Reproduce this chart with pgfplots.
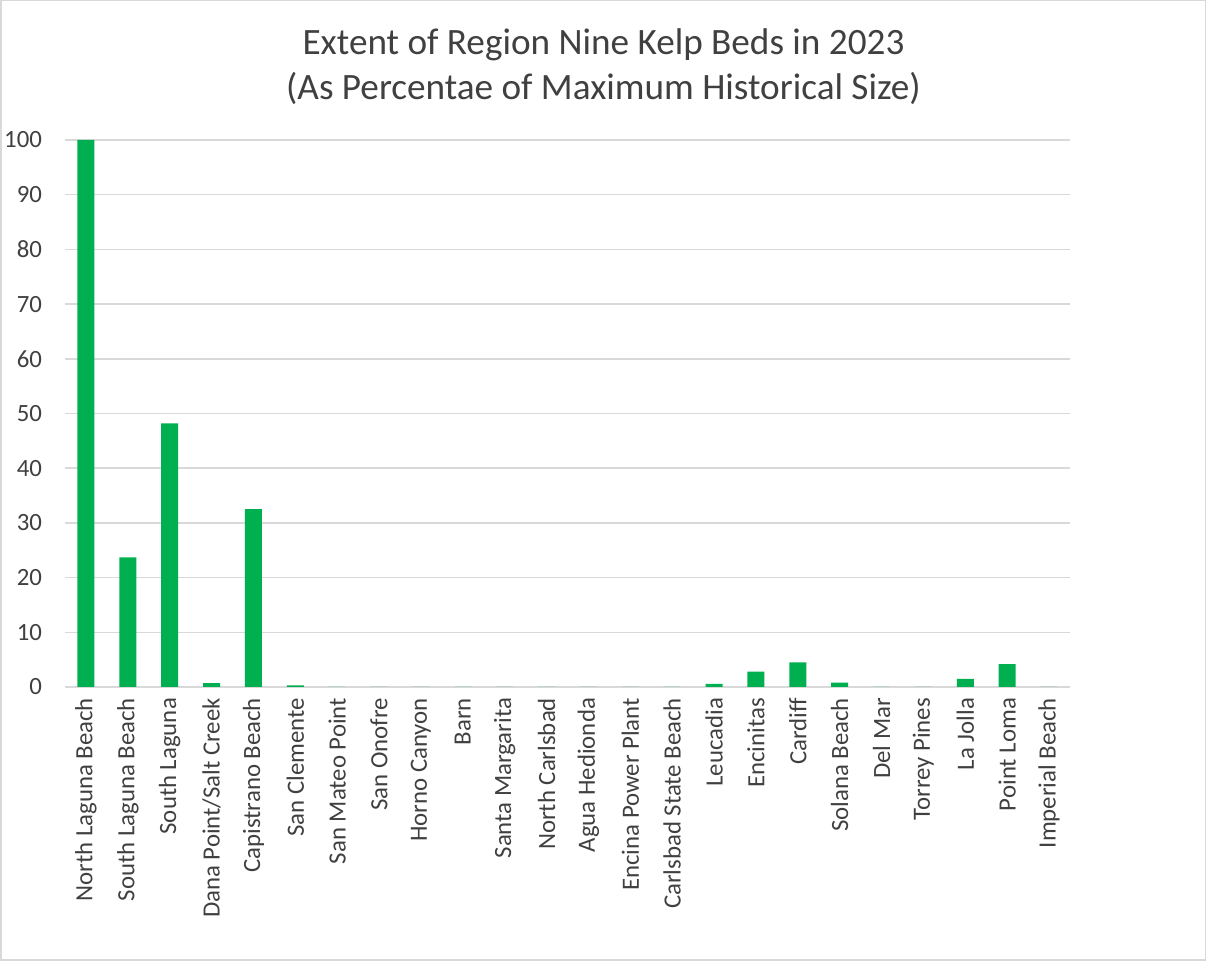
\documentclass[border=0pt]{standalone}
\usepackage{fontspec}
\setmainfont{Carlito}
\usepackage{pgfplots}
\pgfplotsset{compat=1.18}
\definecolor{kelp}{HTML}{00B050}
\definecolor{gridc}{HTML}{D9D9D9}
\definecolor{txt}{HTML}{404040}
\begin{document}
\begin{tikzpicture}[x=0.5pt,y=0.5pt]
\useasboundingbox (0,0) rectangle (1206,961);
\draw[gridc, line width=1pt] (0.5,0.5) rectangle (1205.5,960.5);
\node[font=\fontsize{18.6}{22.5}\selectfont, text=txt, align=center] at (603.5,894) {Extent of Region Nine Kelp Beds in 2023\\(As Percentae of Maximum Historical Size)};
\begin{axis}[
  at={(65pt*0.5,274pt*0.5)}, anchor=south west,
  scale only axis,
  width=502.5pt, height=273.5pt,
  xmin=-0.5, xmax=23.5,
  ymin=0, ymax=100,
  ytick={0,10,...,100},
  xtick={0,...,23},
  xticklabels={North Laguna Beach, South Laguna Beach, South Laguna, Dana Point/Salt Creek, Capistrano Beach, San Clemente, San Mateo Point, San Onofre, Horno Canyon, Barn, Santa Margarita, North Carlsbad, Agua Hedionda, Encina Power Plant, Carlsbad State Beach, Leucadia, Encinitas, Cardiff, Solana Beach, Del Mar, Torrey Pines, La Jolla, Point Loma, Imperial Beach},
  x tick label style={rotate=90, anchor=east, font=\fontsize{12.4}{14}\selectfont, text=txt, xshift=-2pt},
  y tick label style={font=\fontsize{12.4}{14}\selectfont, text=txt, xshift=-8pt},
  /pgf/number format/assume math mode=true,
  major tick length=0pt,
  ymajorgrids,
  grid style={gridc, line width=0.75pt},
  axis x line*=bottom,
  axis y line*=left,
  y axis line style={draw=none},
  x axis line style={gridc, line width=0.75pt, -},
  ybar, bar width=8.5pt,
  clip=false,
]
\addplot[fill=kelp, draw=none] coordinates {
(0,100) (1,23.7) (2,48.2) (3,0.7) (4,32.5) (5,0.3) (6,0) (7,0) (8,0) (9,0) (10,0) (11,0) (12,0) (13,0) (14,0) (15,0.55) (16,2.8) (17,4.5) (18,0.8) (19,0) (20,0) (21,1.5) (22,4.2) (23,0)
};
\end{axis}
\end{tikzpicture}
\end{document}
